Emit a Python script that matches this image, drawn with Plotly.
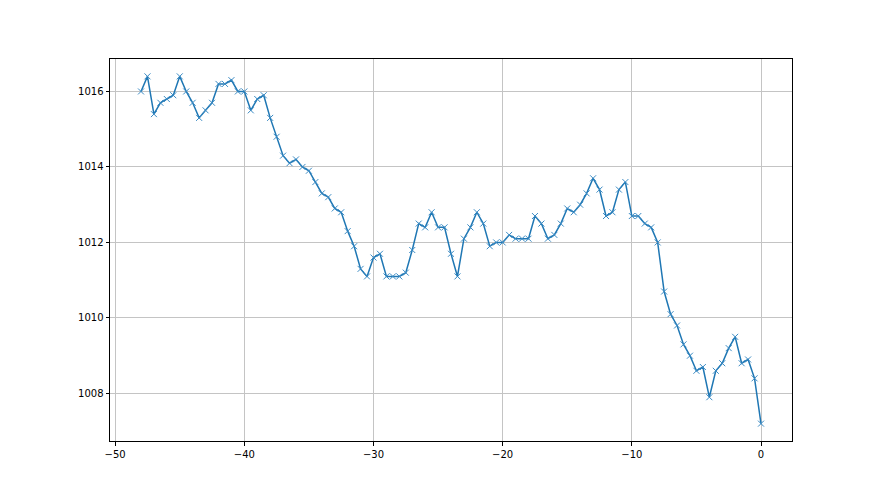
import numpy as np
import plotly.graph_objects as go

pressure = [
    1016.0, 1016.4, 1015.4, 1015.7, 1015.8, 1015.9, 1016.4, 1016.0, 1015.7, 1015.3,
    1015.5, 1015.7, 1016.2, 1016.2, 1016.3, 1016.0, 1016.0, 1015.5, 1015.8, 1015.9,
    1015.3, 1014.8, 1014.3, 1014.1, 1014.2, 1014.0, 1013.9, 1013.6, 1013.3, 1013.2,
    1012.9, 1012.8, 1012.3, 1011.9, 1011.3, 1011.1, 1011.6, 1011.7, 1011.1, 1011.1,
    1011.1, 1011.2, 1011.8, 1012.5, 1012.4, 1012.8, 1012.4, 1012.4, 1011.7, 1011.1,
    1012.1, 1012.4, 1012.8, 1012.5, 1011.9, 1012.0, 1012.0, 1012.2, 1012.1, 1012.1,
    1012.1, 1012.7, 1012.5, 1012.1, 1012.2, 1012.5, 1012.9, 1012.8, 1013.0, 1013.3,
    1013.7, 1013.4, 1012.7, 1012.8, 1013.4, 1013.6, 1012.7, 1012.7, 1012.5, 1012.4,
    1012.0, 1010.7, 1010.1, 1009.8, 1009.3, 1009.0, 1008.6, 1008.7, 1007.9, 1008.6,
    1008.8, 1009.2, 1009.5, 1008.8, 1008.9, 1008.4, 1007.2,
]
hours = list(np.round(np.arange(-(len(pressure) - 1) * 0.5, 0.25, 0.5), 2))

x_ticks = [-50, -40, -30, -20, -10, 0]
y_ticks = [1008, 1010, 1012, 1014, 1016]

fig = go.Figure()
fig.add_trace(go.Scatter(
    x=hours, y=pressure, mode="lines+markers",
    line=dict(color="#1f77b4", width=1.5),
    marker=dict(symbol="x-thin", size=6, line=dict(color="#3b8bc4", width=1)),
    showlegend=False,
))

axis_common = dict(
    showline=True, linecolor="black", linewidth=1, mirror=True,
    ticks="outside", ticklen=3.5, tickwidth=0.8, tickcolor="black",
    showgrid=True, gridcolor="#c4c4c4", gridwidth=0.8,
    zeroline=False, tickfont=dict(family="DejaVu Sans", size=10, color="black"),
)

fig.update_layout(
    width=880, height=495,
    margin=dict(l=102, r=96, t=51, b=62),
    paper_bgcolor="white", plot_bgcolor="white",
    xaxis=dict(range=[-50.4, 2.4], tickvals=x_ticks,
               ticktext=["\u221250", "\u221240", "\u221230", "\u221220", "\u221210", "0"],
               **axis_common),
    yaxis=dict(range=[1006.74, 1016.86], tickvals=y_ticks, **axis_common),
)

fig.write_html("out.html")
